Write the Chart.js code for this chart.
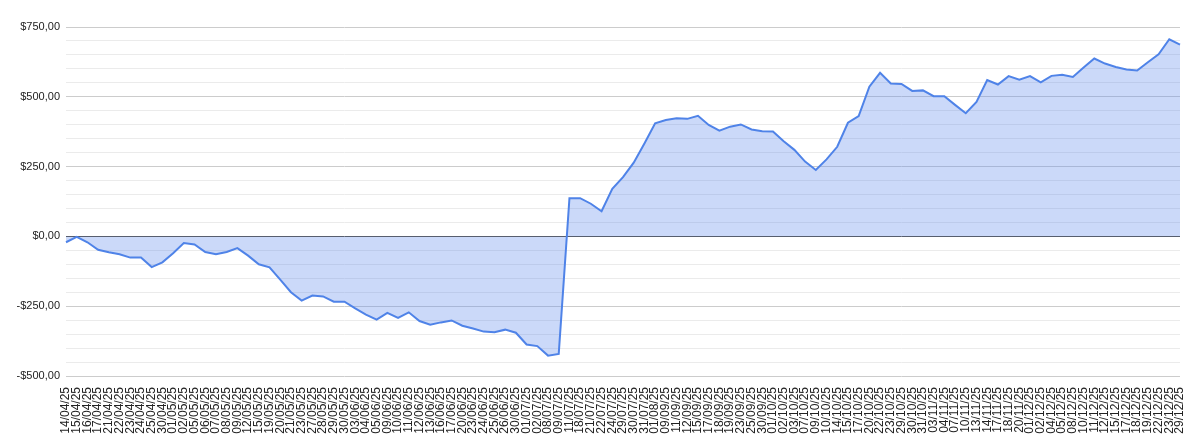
<!DOCTYPE html>
<html><head><meta charset="utf-8">
<script src="https://cdn.jsdelivr.net/npm/chart.js@4"></script>
<style>html,body{margin:0;padding:0;background:#fff}#w{width:1200px;height:444px}</style>
</head><body><div id="w"><canvas id="c"></canvas></div>
<script>
const labels = ["14/04/25","15/04/25","16/04/25","17/04/25","21/04/25","22/04/25","23/04/25","24/04/25","25/04/25","30/04/25","01/05/25","02/05/25","05/05/25","06/05/25","07/05/25","08/05/25","09/05/25","12/05/25","15/05/25","19/05/25","20/05/25","21/05/25","23/05/25","27/05/25","28/05/25","29/05/25","30/05/25","03/06/25","04/06/25","05/06/25","09/06/25","10/06/25","11/06/25","12/06/25",
"13/06/25","16/06/25","17/06/25","20/06/25","23/06/25","24/06/25","25/06/25","26/06/25","30/06/25","01/07/25","02/07/25","08/07/25","09/07/25","11/07/25","18/07/25","21/07/25","22/07/25","24/07/25","29/07/25","30/07/25","31/07/25","01/08/25","09/09/25","11/09/25","12/09/25","15/09/25","17/09/25","18/09/25","19/09/25","23/09/25","25/09/25","30/09/25","01/10/25","02/10/25","03/10/25","07/10/25",
"09/10/25","10/10/25","14/10/25","15/10/25","17/10/25","20/10/25","22/10/25","23/10/25","29/10/25","30/10/25","31/10/25","03/11/25","04/11/25","07/11/25","10/11/25","13/11/25","14/11/25","17/11/25","18/11/25","20/11/25","01/12/25","02/12/25","04/12/25","05/12/25","08/12/25","10/12/25","11/12/25","12/12/25","15/12/25","17/12/25","18/12/25","19/12/25","22/12/25","23/12/25","29/12/25"];
const values = [-21,-2,-21,-48,-57,-64,-76,-76,-110,-93,-60,-24,-29,-56,-64,-56,-42,-69,-100,-111,-155,-200,-230,-212,-215,-234,-234,-258,-280,-298,-274,-292,-272,-303,
-316,-308,-301,-320,-330,-341,-343,-334,-345,-387,-393,-427,-421,137,137,117,90,170,212,264,333,405,417,423,421,432,399,379,393,401,383,377,376,341,310,268,
238,276,321,407,431,536,586,548,546,521,523,502,502,471,441,482,560,544,574,561,574,552,575,579,571,605,637,619,607,598,594,624,652,706,687];
const yMin = -500, yMax = 750, yStep = 50, yLabelStep = 250;
function money(v){const s='$'+Math.abs(v).toFixed(2).replace('.',',');return v<0?'-'+s:s;}
new Chart(document.getElementById('c'),{
  type:'line',
  data:{labels,datasets:[{data:values,borderColor:'#4f83e8',borderWidth:2,backgroundColor:'rgba(96,140,238,0.33)',fill:'origin',pointRadius:0,tension:0}]},
  options:{responsive:true,maintainAspectRatio:false,animation:false,
    layout:{padding:{top:27,right:20,left:0,bottom:2}},
    plugins:{legend:{display:false},tooltip:{enabled:false}},
    scales:{
      x:{offset:false,grid:{display:false},border:{display:false},
        afterFit(s){s.height=66;},
        ticks:{autoSkip:false,maxRotation:90,minRotation:90,color:'#222',font:{family:'Liberation Sans, Arial',size:12},padding:3}},
      y:{min:yMin,max:yMax,border:{display:false},
        afterFit(s){s.width=66;},
        grid:{color:c=>c.tick.value===0?'#555':(c.tick.value%yLabelStep===0?'#ccc':'#ebebeb'),lineWidth:1,drawTicks:false},
        ticks:{stepSize:yStep,autoSkip:false,color:'#222',padding:6,font:{family:'Liberation Sans, Arial',size:11},
          callback:v=>v%yLabelStep===0?money(v):''}}
    }}
});
</script></body></html>
